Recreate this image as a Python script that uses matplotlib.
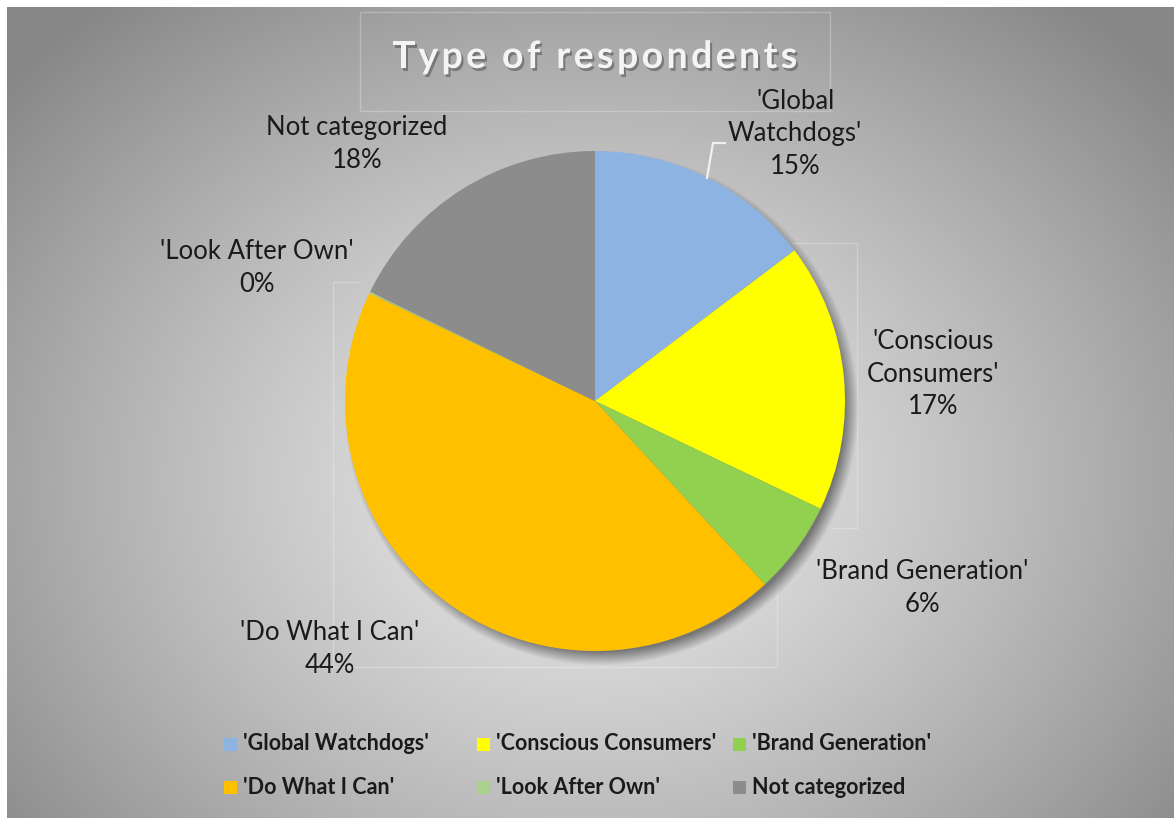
import numpy as np
import matplotlib
matplotlib.use("Agg")
import matplotlib.pyplot as plt
from matplotlib.patches import Rectangle
from matplotlib import patheffects as pe

plt.rcParams['font.family'] = ['Lato', 'DejaVu Sans']

# ---- data ----
categories = ["'Global Watchdogs'", "'Conscious Consumers'", "'Brand Generation'",
              "'Do What I Can'", "'Look After Own'", "Not categorized"]
shares = [14.7, 17.4, 6.0, 44.0, 0.1, 17.8]
label_names = ["'Global\nWatchdogs'", "'Conscious\nConsumers'", "'Brand Generation'",
               "'Do What I Can'", "'Look After Own'", "Not categorized"]
colors = ["#8db3e2", "#ffff00", "#92d050", "#ffc000", "#a9d18e", "#8c8c8c"]
title = "Type of respondents"

W, H = 1174, 818
fig = plt.figure(figsize=(W / 100, H / 100), dpi=100, facecolor="white")
ax = fig.add_axes([0, 0, 1, 1])
ax.set_xlim(0, W)
ax.set_ylim(0, H)
ax.axis("off")

def Y(y):  # pixel row (from top) -> data y
    return H - y

# ---- radial gradient background ----
gx, gy = np.meshgrid(np.arange(7, W), np.arange(7, H))
t = np.sqrt(((gx - 590) / 760.0) ** 2 + ((gy - 480) / 620.0) ** 2)
t = np.clip(t, 0, 1) ** 1.25
inner, outer = 0.92, 0.53
shade = inner + (outer - inner) * t
ax.imshow(np.dstack([shade] * 3), extent=(7, W, Y(H), Y(7)), origin="upper",
          zorder=0, interpolation="bilinear", aspect="auto")

# ---- faint frame lines ----
frame_kw = dict(color="white", alpha=0.25, lw=1, zorder=1)
ax.add_patch(Rectangle((360, Y(111)), 470, 99, fill=False, ec="white", alpha=0.25, lw=1, zorder=1))
ax.plot([792, 857, 857, 832], [Y(243), Y(243), Y(528), Y(528)], **frame_kw)
ax.plot([358, 333, 333, 777, 777], [Y(282), Y(282), Y(667), Y(667), Y(560)], **frame_kw)

# ---- pie shadow ----
cx, cy, R = 595, 401, 250
sx, sy, blur = cx + 6, cy + 7, 7.0
px, py = np.meshgrid(np.arange(cx - 300, cx + 310), np.arange(cy - 300, cy + 310))
d = np.hypot(px - sx, py - sy)
a = np.clip((R + blur - d) / (2 * blur), 0, 1) * 0.6
sh = np.zeros(px.shape + (4,))
sh[..., :3] = 0.22
sh[..., 3] = a
ax.imshow(sh, extent=(cx - 300, cx + 310, Y(cy + 310), Y(cy - 300)), origin="upper",
          zorder=2, interpolation="bilinear", aspect="auto")

# ---- pie ----
wedges, _ = ax.pie(shares, colors=colors, startangle=90, counterclock=False,
                   center=(cx, Y(cy)), radius=R, frame=False,
                   wedgeprops=dict(linewidth=0))
for w in wedges:
    w.set_zorder(3)
ax.set_xlim(0, W)
ax.set_ylim(0, H)
ax.set_aspect("auto")

# ---- data labels ----
label_pos = [(795, 134), (933, 374), (922, 588), (330, 649), (257, 268), (357, 144)]
for name, v, (lx, ly) in zip(label_names, shares, label_pos):
    ax.text(lx, Y(ly), f"{name}\n{v:.0f}%", ha="center", va="center",
            fontsize=18.5, color="#1a1a1a", linespacing=1.38, zorder=5)

# leader line for the first slice
ax.plot([707, 713, 725], [Y(178), Y(143), Y(143)], color="white", alpha=0.8,
        lw=1.6, zorder=4, solid_joinstyle="miter")

# ---- title with letter spacing ----
renderer = fig.canvas.get_renderer()
tkw = dict(fontsize=27, fontweight="bold", color="#f4f4f4")

def text_w(s):
    tt = ax.text(0, 0, s + "|", **tkw)
    w = tt.get_window_extent(renderer).width
    tt.remove()
    return w

bar_w = text_w("")
spacing = 3.4
full = text_w(title) - bar_w + spacing * (len(title) - 1)
x0 = 595 - full / 2
shadow = [pe.withSimplePatchShadow(offset=(1.5, -2), shadow_rgbFace="#3c3c3c", alpha=0.45)]
for k, ch in enumerate(title):
    if ch == " ":
        continue
    xk = x0 + (text_w(title[:k]) - bar_w) + spacing * k
    ax.text(xk, Y(57), ch, ha="left", va="center", zorder=6, path_effects=shadow, **tkw)

# ---- legend ----
col_x = [224, 477, 733]
row_y = [744, 787]
for idx, name in enumerate(categories):
    r, c = divmod(idx, 3)
    mx, my = col_x[c], row_y[r]
    ax.add_patch(Rectangle((mx, Y(my + 6.5)), 13, 13, color=colors[idx], lw=0, zorder=5))
    ax.text(mx + 19, Y(my), name, ha="left", va="center", fontsize=15.5,
            fontweight="bold", color="#1a1a1a", zorder=5)

fig.savefig("out.png", dpi=100, facecolor="white")
